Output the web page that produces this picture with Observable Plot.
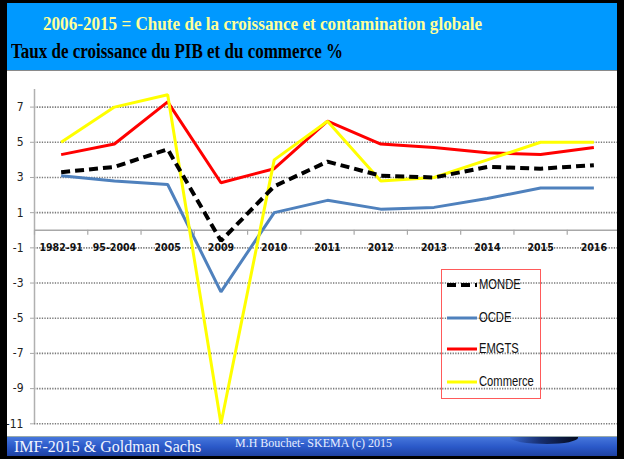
<!DOCTYPE html>
<html><head><meta charset="utf-8">
<script src="https://cdn.jsdelivr.net/npm/d3@7"></script>
<script src="https://cdn.jsdelivr.net/npm/@observablehq/plot@0.6"></script>
<style>
html,body{margin:0;padding:0;background:#fff;}
#page{position:relative;width:624px;height:459px;overflow:hidden;background:#fff;}
.abs{position:absolute;}
#header{left:0;top:0;width:624px;height:70px;background:#0099ff;border-bottom:1.5px solid #8a8a8a;}
#title{left:43px;top:14px;font-family:"Liberation Serif","Times New Roman",serif;font-weight:bold;font-size:18.5px;color:#ffff99;white-space:nowrap;transform:scaleX(0.925);transform-origin:0 0;}
#subtitle{left:11px;top:40px;font-family:"Liberation Serif","Times New Roman",serif;font-weight:bold;font-size:20px;color:#000;white-space:nowrap;transform:scaleX(0.85);transform-origin:0 0;}
#chart{left:0;top:71px;}
#footer{left:0;top:436px;width:624px;height:20px;background:linear-gradient(#4677dc,#2a58c8 50%,#1d3f9e);border-top:1px solid #9aa;}
#src{left:14px;top:438px;font-family:"Liberation Serif","Times New Roman",serif;font-size:16px;color:#f0f4ff;white-space:nowrap;}
#author{left:235px;top:436px;font-family:"Liberation Serif","Times New Roman",serif;font-size:12px;color:#e8eeff;white-space:nowrap;}
#legend{left:441px;top:269px;width:98px;height:128px;border:1.5px solid #ff5a5a;background:transparent;}
.leg{position:absolute;font-family:"Liberation Sans",Arial,sans-serif;font-size:14px;color:#111;white-space:nowrap;transform:scaleX(0.8);transform-origin:0 0;}
#bl{left:0;top:0;width:7px;height:459px;background:#000;}
#br{left:617px;top:0;width:7px;height:459px;background:#000;}
#bt{left:0;top:0;width:624px;height:3px;background:#000;}
#bb{left:0;top:456px;width:624px;height:3px;background:#000;}
#swoosh{left:510px;top:437px;width:68px;height:7px;border-radius:0 0 50% 60% / 0 0 100% 100%;background:linear-gradient(90deg,rgba(40,80,190,0.2),#172e6e 45%,#040a1c);}
</style>
</head><body>
<div id="page">
  <div id="header" class="abs"></div>
  <div id="title" class="abs">2006-2015 = Chute de la croissance et contamination globale</div>
  <div id="subtitle" class="abs">Taux de croissance du PIB et du commerce %</div>
  <div id="chart" class="abs"></div>
  <div id="legend" class="abs"></div>
  <div id="footer" class="abs"></div>
  <div id="swoosh" class="abs"></div>
  <div id="src" class="abs">IMF-2015 &amp; Goldman Sachs</div>
  <div id="author" class="abs">M.H Bouchet- SKEMA (c) 2015</div>
  <div id="bl" class="abs"></div><div id="br" class="abs"></div>
  <div id="bt" class="abs"></div><div id="bb" class="abs"></div>
</div>
<script>
const categories = ["1982-91","95-2004","2005","2009","2010","2011","2012","2013","2014","2015","2016"];
const monde    = [3.3, 3.6, 4.6, -0.6, 2.5, 3.9, 3.1, 3.0, 3.6, 3.5, 3.7];
const ocde     = [3.1, 2.8, 2.6, -3.5, 1.0, 1.7, 1.2, 1.3, 1.8, 2.4, 2.4];
const emgts    = [4.3, 4.9, 7.3, 2.7, 3.5, 6.2, 4.9, 4.7, 4.4, 4.3, 4.7];
const commerce = [5.0, 7.0, 7.7, -11.0, 4.0, 6.2, 2.8, 3.0, 4.0, 5.0, 5.0];
const yTicks = [-11, -9, -7, -5, -3, -1, 1, 3, 5, 7];

const seriesList = [
  {name: "MONDE", values: monde, color: "#000000", width: 4, dash: "9,5"},
  {name: "OCDE", values: ocde, color: "#4f81bd", width: 3, dash: null},
  {name: "EMGTS", values: emgts, color: "#ff0000", width: 3, dash: null},
  {name: "Commerce", values: commerce, color: "#ffff00", width: 3, dash: null}
];
const rows = s => s.values.map((v, i) => ({i, v, cat: categories[i]}));
const boundaries = d3.range(categories.length + 1).map(k => k - 0.5);
const drawOrder = [seriesList[1], seriesList[2], seriesList[3], seriesList[0]];

const plot = Plot.plot({
  width: 620, height: 365,
  marginLeft: 34, marginRight: 0, marginTop: 18, marginBottom: 12.7,
  style: {background: "transparent", fontFamily: "'DejaVu Sans Condensed',sans-serif"},
  x: {type: "linear", domain: [-0.5, categories.length - 0.5], axis: null},
  y: {domain: [-11, 8], axis: null},
  marks: [
    Plot.ruleY(yTicks, {stroke: "#7a7a7a", strokeWidth: 1.6, strokeDasharray: "1.3,1.3"}),
    Plot.ruleX([-0.5], {stroke: "#b0b0b0", strokeWidth: 1.5}),
    Plot.ruleY([0], {stroke: "#a8a8a8", strokeWidth: 1.5}),
    Plot.ruleX(boundaries, {y1: 0, y2: 0, insetBottom: -5, stroke: "#a8a8a8", strokeWidth: 1.2}),
    Plot.axisY({ticks: yTicks, label: null, tickSize: 4, tickPadding: 7, stroke: "#a8a8a8", fontSize: 12, fill: "#222", tickFormat: d => d < 0 ? "-" + Math.abs(d) : String(d)}),
    Plot.text(categories, {x: (d, i) => i, y: () => 0, dy: 17, text: d => d, fontWeight: "bold", fontSize: 10.5, fill: "#111"}),
    ...drawOrder.map(s => Plot.line(rows(s), {x: "i", y: "v", stroke: s.color, strokeWidth: s.width, strokeDasharray: s.dash, strokeLinejoin: "miter", strokeLinecap: "butt"}))
  ]
});
document.getElementById("chart").appendChild(plot);

// legend
const leg = document.getElementById("legend");
const legY = [15, 48, 79, 112];
seriesList.forEach((s, k) => {
  const svg = d3.create("svg").attr("width", 32).attr("height", 8)
    .style("position", "absolute").style("left", "5px").style("top", (legY[k] - 4) + "px");
  svg.append("line").attr("x1", 0).attr("x2", 30).attr("y1", 4).attr("y2", 4)
    .attr("stroke", s.color).attr("stroke-width", s.width)
    .attr("stroke-dasharray", s.dash);
  leg.appendChild(svg.node());
  const t = document.createElement("div");
  t.className = "leg"; t.textContent = s.name;
  t.style.left = "37px"; t.style.top = (legY[k] - 9) + "px";
  leg.appendChild(t);
});
</script>
</body></html>
